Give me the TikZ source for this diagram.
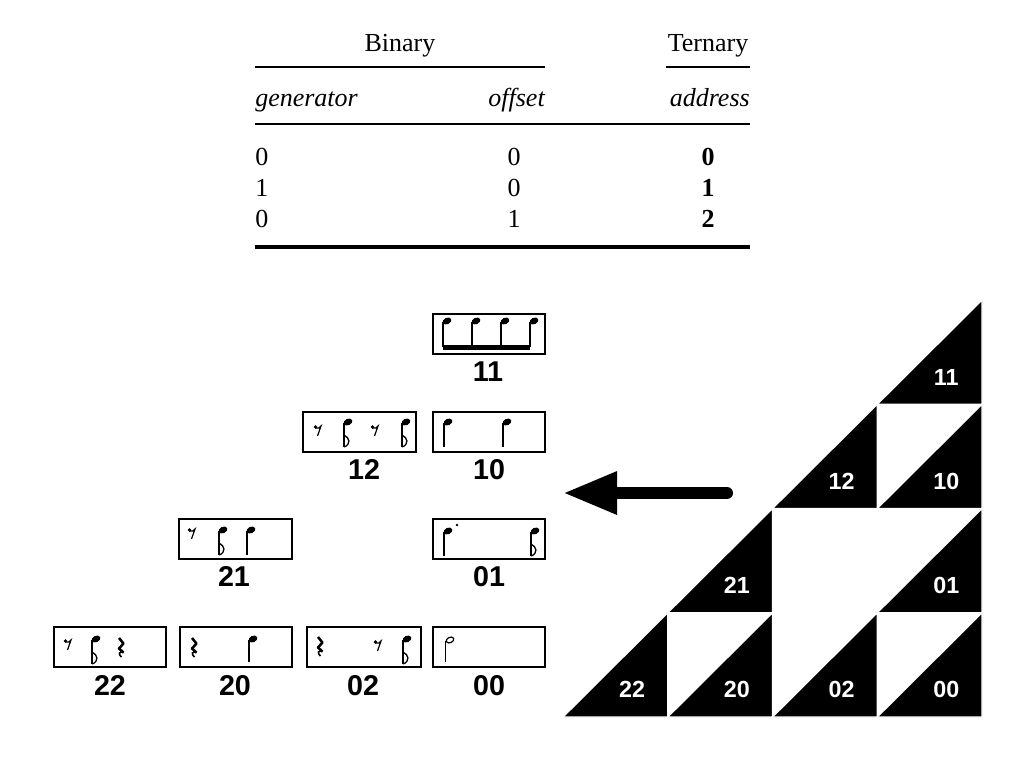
\documentclass[tikz,border=0pt]{standalone}
\usepackage{fontspec}
\setmainfont{Liberation Serif}
\newfontfamily\hv{Liberation Sans}
\usetikzlibrary{arrows.meta}
\begin{document}
\begin{tikzpicture}[x=0.75pt,y=-0.75pt,
  tab/.style={font=\fontsize{19.5}{22}\selectfont, inner sep=0},
  rulethin/.style={line width=1.5pt},
  rulethick/.style={line width=3pt},
  mbox/.style={draw, line width=0.9pt, minimum height=30pt, inner sep=0},
  blab/.style={font=\hv\bfseries\fontsize{21.5}{24}\selectfont, inner sep=0, anchor=base},
  tlab/.style={font=\hv\bfseries\fontsize{17.5}{20}\selectfont, text=white, inner sep=0, anchor=base},
  tri/.style={fill=black, draw=white, line width=1pt},
  stemline/.style={line width=0.8pt},
  pics/qn/.style={code={
    \fill[rotate around={25:(4,0)}] (4,0) ellipse [x radius=4.6, y radius=3.2];
    \draw[stemline] (0,0.5) -- (0,#1);
  }},
  pics/qn/.default=25,
  pics/en/.style={code={
    \fill[rotate around={25:(4,0)}] (4,0) ellipse [x radius=4.6, y radius=3.2];
    \draw[stemline] (0,0.5) -- (0,25);
    \draw[line width=1pt] (0,13) .. controls (6,16) and (7,22) .. (0.3,25);
  }},
  pics/hn/.style={code={
    \draw[line width=0.9pt, rotate around={25:(4,0)}] (4,0) ellipse [x radius=4.0, y radius=2.7];
    \draw[stemline] (-0.2,1) -- (-0.2,22);
  }},
  pics/er/.style={code={
    \fill (-2.5,-3) circle [radius=1.9];
    \draw[line width=0.9pt] (-2.5,-2) .. controls (0,-1) and (1.5,-2) .. (3,-4) -- (-0.5,6);
  }},
  pics/qr/.style={code={
    \draw[line width=1.9pt, line join=round] (-2,0) -- (2.5,5.5) -- (-2,10.5) -- (2.5,14.5);
    \draw[line width=1.2pt] (2.5,14.5) .. controls (-2,12.5) and (-3,16.5) .. (0.5,19);
  }},
]
\useasboundingbox (0,0) rectangle (1024,768);

% ---------- table ----------
\node[tab, anchor=base] (hbin) at (400,51) {Binary};
\node[tab, anchor=base] (hter) at (708,51) {Ternary};
\draw[rulethin] (255,67) -- (545,67);
\draw[rulethin] (666,67) -- (750,67);
\node[tab, anchor=base west] (hgen) at (255,106) {\itshape generator};
\node[tab, anchor=base east] (hoff) at (545,106) {\itshape offset};
\node[tab, anchor=base east] (hadr) at (750,106) {\itshape address};
\draw[rulethin] (255,124) -- (750,124);
\node[tab, anchor=base west] (g1) at (255,165) {0};
\node[tab, anchor=base west] (g2) at (255,196) {1};
\node[tab, anchor=base west] (g3) at (255,227) {0};
\node[tab, anchor=base] (o1) at (514,165) {0};
\node[tab, anchor=base] (o2) at (514,196) {0};
\node[tab, anchor=base] (o3) at (514,227) {1};
\node[tab, anchor=base] (a1) at (708,165) {\bfseries 0};
\node[tab, anchor=base] (a2) at (708,196) {\bfseries 1};
\node[tab, anchor=base] (a3) at (708,227) {\bfseries 2};
\draw[rulethick] (255,247) -- (750,247);

% ---------- rhythm boxes ----------
\node[mbox, minimum width=84pt] (b11) at (489,334) {};
\node[mbox, minimum width=84.75pt] (b12) at (359.5,432) {};
\node[mbox, minimum width=84pt] (b10) at (489,432) {};
\node[mbox, minimum width=84.75pt] (b21) at (235.5,539) {};
\node[mbox, minimum width=84pt] (b01) at (489,539) {};
\node[mbox, minimum width=84pt] (b22) at (110,647) {};
\node[mbox, minimum width=84pt] (b20) at (236,647) {};
\node[mbox, minimum width=85.5pt] (b02) at (364,647) {};
\node[mbox, minimum width=84pt] (b00) at (489,647) {};

\node[blab] (l11) at (488,381) {11};
\node[blab] (l12) at (364,479) {12};
\node[blab] (l10) at (489,479) {10};
\node[blab] (l21) at (234,586) {21};
\node[blab] (l01) at (489,586) {01};
\node[blab] (l22) at (110,695) {22};
\node[blab] (l20) at (235,695) {20};
\node[blab] (l02) at (363,695) {02};
\node[blab] (l00) at (489,695) {00};

% 11: four beamed eighths
\foreach \sx in {443,472,501,530} { \pic at (\sx,321) {qn=26}; }
\fill (442.6,345) rectangle (530.4,349.5);
% 12
\pic at (318,430) {er};
\pic at (344,422) {en};
\pic at (375,430) {er};
\pic at (402,422) {en};
% 10
\pic at (444,422) {qn};
\pic at (503,422) {qn};
% 21
\pic at (192,533) {er};
\pic at (219,530) {en};
\pic at (247,530) {qn};
% 01
\pic at (444,531) {qn};
\fill (457,525) circle [radius=1.4];
\pic at (531,531) {en};
% 22
\pic at (68,644) {er};
\pic at (92,639) {en};
\pic at (121,638) {qr};
% 20
\pic at (194,638) {qr};
\pic at (249,639) {qn=23};
% 02
\pic at (320,637) {qr};
\pic at (378,645) {er};
\pic at (403,639) {en};
% 00
\pic at (446,640) {hn};

% ---------- arrow ----------
\coordinate (aS) at (727,493);
\coordinate (aE) at (563,493);
\draw[line width=9pt, line cap=round, -{Triangle[length=40.5pt,width=30pt]}] (aS) -- (aE);

% ---------- triangle grid ----------
\foreach \i/\j/\lab in {3/0/11, 2/1/12, 3/1/10, 1/2/21, 3/2/01, 0/3/22, 1/3/20, 2/3/02, 3/3/00} {
  \pgfmathsetmacro{\xa}{563+104.75*\i}
  \pgfmathsetmacro{\xb}{563+104.75*(\i+1)}
  \pgfmathsetmacro{\ya}{300+104.25*\j}
  \pgfmathsetmacro{\yb}{300+104.25*(\j+1)}
  \filldraw[tri] (\xa,\yb) -- (\xb,\yb) -- (\xb,\ya) -- cycle;
  \node[tlab] (t\lab) at (\xa+69,\ya+85) {\lab};
}
\end{tikzpicture}
\end{document}
